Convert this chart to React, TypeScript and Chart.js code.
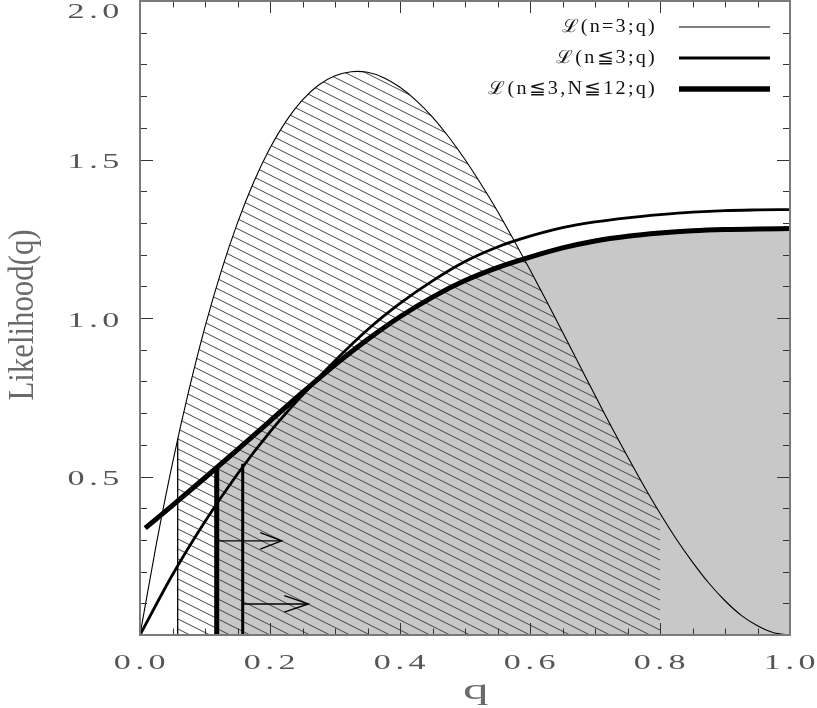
import React, { useEffect, useRef } from 'react';
import { Chart, registerables } from 'chart.js';

Chart.register(...registerables);

// ---- data ----
const qThin = [0, 0.025, 0.05, 0.075, 0.1, 0.125, 0.15, 0.175, 0.2, 0.225, 0.25, 0.275, 0.3, 0.325, 0.35, 0.375, 0.4, 0.425, 0.45, 0.475, 0.5, 0.525, 0.55, 0.575, 0.6, 0.625, 0.65, 0.675, 0.7, 0.725, 0.75, 0.775, 0.8, 0.825, 0.85, 0.875, 0.9, 0.925, 0.95, 0.975, 1.0];
const likeN3 = [0, 0.285, 0.542, 0.770, 0.972, 1.148, 1.300, 1.429, 1.536, 1.622, 1.688, 1.735, 1.764, 1.777, 1.775, 1.758, 1.728, 1.686, 1.634, 1.571, 1.500, 1.421, 1.337, 1.246, 1.152, 1.055, 0.956, 0.856, 0.756, 0.658, 0.563, 0.471, 0.384, 0.303, 0.230, 0.164, 0.108, 0.062, 0.029, 0.007, 0];

const qCum = [0, 0.05, 0.1, 0.15, 0.2, 0.25, 0.3, 0.35, 0.4, 0.45, 0.5, 0.55, 0.6, 0.65, 0.7, 0.75, 0.8, 0.85, 0.9, 0.95, 1.0];
const likeLe3 = [0, 0.19, 0.358, 0.508, 0.641, 0.757, 0.865, 0.963, 1.046, 1.117, 1.178, 1.224, 1.258, 1.285, 1.303, 1.316, 1.326, 1.334, 1.339, 1.341, 1.342];

const qCumN = [0.008, 0.05, 0.1, 0.15, 0.2, 0.25, 0.3, 0.35, 0.4, 0.45, 0.5, 0.55, 0.6, 0.65, 0.7, 0.75, 0.8, 0.85, 0.9, 0.95, 1.0];
const likeLe3N12 = [0.337, 0.409, 0.496, 0.585, 0.675, 0.765, 0.852, 0.932, 1.004, 1.066, 1.118, 1.159, 1.192, 1.221, 1.243, 1.258, 1.268, 1.275, 1.279, 1.281, 1.282];

// limits (q) and values at the limits
const hatchFrom = [0.058, 0.62];   // q, L(n=3;q)
const hatchToQ = 0.8;
const grayFrom = [0.118, 0.527];   // q, L(n<=3,N<=12;q)
const medBar = [0.158, 0.54];      // q, L(n<=3;q)

// arrows: [y, q start, q tip, q barb]
const arrowA = [0.297, 0.118, 0.218, 0.185];
const arrowB = [0.098, 0.158, 0.259, 0.222];
const arrowBarb = 0.026;

const legendLabels = ['\u2112(n=3;q)', '\u2112(n\u22663;q)', '\u2112(n\u22663,N\u226612;q)'];
const legendWidths = [1.1, 2.8, 5.5];

const xTickValues = [0, 0.2, 0.4, 0.6, 0.8, 1.0];
const xTickLabels = ['0.0', '0.2', '0.4', '0.6', '0.8', '1.0'];
const yTickValues = [0.5, 1.0, 1.5, 2.0];
const yTickLabels = ['0.5', '1.0', '1.5', '2.0'];
const xMinorStep = 0.05;
const yMinorStep = 0.1;

const pts = (xs: number[], ys: number[]) => xs.map((x, i) => ({ x, y: ys[i] }));

function makeHatch(ctx: CanvasRenderingContext2D) {
  const s = 10;
  const c = document.createElement('canvas');
  c.width = 2 * s;
  c.height = s;
  const g = c.getContext('2d')!;
  g.strokeStyle = '#444';
  g.lineWidth = 1;
  g.beginPath();
  for (const dy of [-s, 0, s]) {
    g.moveTo(-2, dy - 1);
    g.lineTo(2 * s + 2, dy + s + 1);
  }
  g.stroke();
  return ctx.createPattern(c, 'repeat')!;
}

function wideText(ctx: CanvasRenderingContext2D, text: string, x: number, y: number, sx: number, ls: number, align: CanvasTextAlign) {
  ctx.save();
  ctx.translate(x, y);
  ctx.scale(sx, 1);
  (ctx as any).letterSpacing = ls + 'px';
  ctx.textAlign = align;
  ctx.fillText(text, 0, 0);
  ctx.restore();
}

const decor = {
  id: 'decor',
  afterDatasetsDraw(chart: any) {
    const { ctx, chartArea: a, scales } = chart;
    const x = scales.x, y = scales.y;
    ctx.save();
    ctx.strokeStyle = '#333';
    ctx.lineWidth = 1;
    ctx.beginPath();
    for (let i = 0; i <= 20; i++) {
      const px = Math.round(x.getPixelForValue(i * xMinorStep)) + 0.5;
      const len = i % 4 === 0 ? 12 : 6.5;
      ctx.moveTo(px, a.bottom); ctx.lineTo(px, a.bottom - len);
      ctx.moveTo(px, a.top); ctx.lineTo(px, a.top + len);
    }
    for (let i = 0; i <= 20; i++) {
      const py = Math.round(y.getPixelForValue(i * yMinorStep)) + 0.5;
      const len = i % 5 === 0 ? 13 : 7;
      ctx.moveTo(a.left, py); ctx.lineTo(a.left + len, py);
      ctx.moveTo(a.right, py); ctx.lineTo(a.right - len, py);
    }
    ctx.stroke();
    ctx.strokeStyle = '#7a7a7a';
    ctx.lineWidth = 2;
    ctx.strokeRect(a.left, a.top, a.right - a.left, a.bottom - a.top);
    ctx.restore();
  },
  afterDraw(chart: any) {
    const { ctx, chartArea: a, scales } = chart;
    const x = scales.x, y = scales.y;
    ctx.save();
    ctx.fillStyle = '#555';
    ctx.font = '22px "Liberation Serif"';
    ctx.textBaseline = 'middle';
    xTickValues.forEach((v, i) => {
      wideText(ctx, xTickLabels[i], x.getPixelForValue(v) + 2, a.bottom + 28, 1.55, 3, 'center');
    });
    yTickValues.forEach((v, i) => {
      const py = Math.max(y.getPixelForValue(v) + 3, a.top + 11);
      wideText(ctx, yTickLabels[i], a.left - 16, py, 1.55, 3, 'right');
    });
    // axis titles
    ctx.fillStyle = '#6a6a6a';
    ctx.font = '30px "Liberation Serif"';
    ctx.textBaseline = 'alphabetic';
    wideText(ctx, 'q', (a.left + a.right) / 2 - 2, a.bottom + 64, 1.7, 0, 'left');
    ctx.save();
    ctx.translate(33, (a.top + a.bottom) / 2 - 3);
    ctx.rotate(-Math.PI / 2);
    ctx.font = '35px "Liberation Serif"';
    wideText(ctx, 'Likelihood(q)', 0, 0, 0.88, 0, 'center');
    ctx.restore();
    // legend
    ctx.fillStyle = '#111';
    ctx.strokeStyle = '#000';
    ctx.font = '18px "Liberation Serif"';
    ctx.textBaseline = 'middle';
    legendLabels.forEach((t, i) => {
      const ly = a.top + 26 + i * 31;
      wideText(ctx, t, a.left + 517, ly, 1.12, 2, 'right');
      ctx.lineWidth = legendWidths[i];
      ctx.beginPath();
      ctx.moveTo(a.left + 539, ly);
      ctx.lineTo(a.left + 630, ly);
      ctx.stroke();
    });
    ctx.restore();
  },
};

export default function App() {
  const ref = useRef<HTMLCanvasElement>(null);
  useEffect(() => {
    document.body.style.margin = '0';
    document.body.style.overflow = 'hidden';
    const canvas = ref.current!;
    const ctx = canvas.getContext('2d')!;
    const hatch = makeHatch(ctx);

    const line = (data: any[], w: number, mode: 'monotone' | 'tension' | 'straight' = 'monotone') => ({
      data,
      borderColor: '#000',
      borderWidth: w,
      pointRadius: 0,
      fill: false,
      tension: mode === 'tension' ? 0.3 : 0,
      cubicInterpolationMode: mode === 'monotone' ? 'monotone' : 'default',
      order: 0,
    });

    const hatchData = [{ x: hatchFrom[0], y: hatchFrom[1] }, ...pts(qThin, likeN3).filter(p => p.x > hatchFrom[0] && p.x <= hatchToQ)];
    const grayData = [{ x: grayFrom[0], y: grayFrom[1] }, ...pts(qCumN, likeLe3N12).filter(p => p.x > grayFrom[0])];

    const arrow = (a: number[], w: number) => [
      line([{ x: a[1], y: a[0] }, { x: a[2], y: a[0] }], w, 'straight'),
      line([{ x: a[3], y: a[0] + arrowBarb }, { x: a[2], y: a[0] }, { x: a[3], y: a[0] - arrowBarb }], w, 'straight'),
    ];

    const chart = new Chart(canvas, {
      type: 'line',
      data: {
        datasets: [
          line(pts(qThin, likeN3), 1.1, 'tension'),
          line(pts(qCum, likeLe3), 2.8),
          line(pts(qCumN, likeLe3N12), 5),
          line([{ x: hatchFrom[0], y: 0 }, { x: hatchFrom[0], y: hatchFrom[1] }], 1.3, 'straight'),
          line([{ x: grayFrom[0], y: 0 }, { x: grayFrom[0], y: grayFrom[1] }], 5, 'straight'),
          line([{ x: medBar[0], y: 0 }, { x: medBar[0], y: medBar[1] }], 3, 'straight'),
          ...arrow(arrowA, 1.4),
          ...arrow(arrowB, 1.4),
          {
            data: hatchData,
            borderColor: 'rgba(0,0,0,0)',
            borderWidth: 0,
            pointRadius: 0,
            backgroundColor: hatch,
            fill: 'origin',
            tension: 0.3,
            order: 5,
          },
          {
            data: grayData,
            borderColor: 'rgba(0,0,0,0)',
            borderWidth: 0,
            pointRadius: 0,
            backgroundColor: '#c8c8c8',
            fill: 'origin',
            cubicInterpolationMode: 'monotone',
            order: 6,
          },
        ] as any,
      },
      options: {
        responsive: false,
        animation: false,
        events: [],
        layout: { padding: { left: 140, right: 27, top: 1, bottom: 73 } },
        scales: {
          x: { type: 'linear', min: 0, max: 1, display: false },
          y: { type: 'linear', min: 0, max: 2, display: false },
        },
        plugins: { legend: { display: false }, tooltip: { enabled: false } },
      },
      plugins: [decor],
    });
    return () => chart.destroy();
  }, []);
  return <canvas ref={ref} width={817} height={708} style={{ display: 'block' }} />;
}
